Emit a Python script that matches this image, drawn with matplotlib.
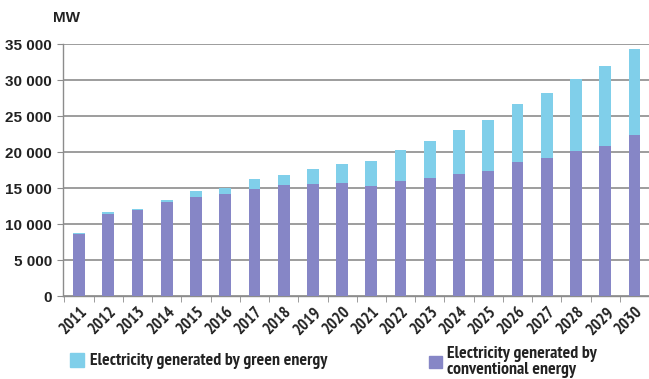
"""
Electricity generation forecast 2011-2030: conventional vs green energy (MW).
"""

import matplotlib.pyplot as plt
from matplotlib.ticker import FuncFormatter
from matplotlib.patches import Rectangle
from matplotlib import font_manager

years = [str(y) for y in range(2011, 2031)]

# totals and conventional share, MW
total_mw = [8800, 11600, 12050, 13300, 14600, 15000, 16200, 16850, 17600, 18350,
            18800, 20300, 21500, 23000, 24450, 26650, 28150, 30200, 31950, 34350]
conventional_mw = [8650, 11400, 12000, 13000, 13800, 14100, 14900, 15400, 15500, 15650,
                   15300, 16000, 16350, 16950, 17300, 18550, 19150, 20100, 20900, 22350]
green_mw = [t - c for t, c in zip(total_mw, conventional_mw)]

GREEN = "#80cfea"
CONV = "#8686c6"
GRID = "#8c8c8c"
TEXT = "#222222"

names = {f.name for f in font_manager.fontManager.ttflist}
narrow = "PT Sans Narrow" if "PT Sans Narrow" in names else "Liberation Sans"
NARROW = [narrow, "DejaVu Sans"]
plt.rcParams["font.family"] = ["Liberation Sans", "DejaVu Sans"]

fig = plt.figure(figsize=(6.49, 3.79), dpi=100)
ax = fig.add_axes([63 / 649, 1 - 296 / 379, (649 - 63) / 649, (296 - 44) / 379])

x = range(len(years))
ax.bar(x, conventional_mw, width=0.4, color=CONV, zorder=3)
ax.bar(x, green_mw, width=0.4, bottom=conventional_mw, color=GREEN, zorder=3)

ax.set_xlim(-0.55, 19.4)
ax.set_ylim(0, 35000)
ax.set_yticks(range(0, 35001, 5000))
ax.yaxis.set_major_formatter(FuncFormatter(lambda v, p: f"{int(v):,}".replace(",", " ")))
ax.yaxis.grid(True, color=GRID, linewidth=1.2, zorder=0)

for side in ("top", "right"):
    ax.spines[side].set_visible(False)
for side in ("left", "bottom"):
    ax.spines[side].set_color(GRID)
    ax.spines[side].set_linewidth(1.0)

ax.tick_params(axis="y", length=4, color=GRID, labelsize=11, pad=4, labelcolor=TEXT)
for lbl in ax.get_yticklabels():
    lbl.set_fontweight("bold")

# category labels centred on bars, tick marks between categories
ax.set_xticks(list(x))
ax.set_xticklabels(years, rotation=45, ha="right", rotation_mode="anchor",
                   fontsize=12, fontweight="bold", family=NARROW, color=TEXT)
ax.tick_params(axis="x", length=0, pad=6)
ax.set_xticks([i + 0.5 for i in range(-1, len(years))], minor=True)
ax.tick_params(axis="x", which="minor", length=4, color=GRID)

fig.text(53 / 649, 1 - 18 / 379, "MW", fontsize=11, fontweight="bold",
         color=TEXT, va="center", ha="left")

# legend drawn by hand
fig.patches.append(Rectangle((70 / 649, 1 - 367 / 379), 14 / 649, 14 / 379,
                             transform=fig.transFigure, color=GREEN))
fig.text(90 / 649, 1 - 361 / 379, "Electricity generated by green energy",
         fontsize=12.8, fontweight="bold", family=NARROW, color=TEXT,
         va="center", ha="left")
fig.patches.append(Rectangle((429 / 649, 1 - 368 / 379), 13 / 649, 12 / 379,
                             transform=fig.transFigure, color=CONV))
fig.text(447 / 649, 1 - 362 / 379, "Electricity generated by\nconventional energy",
         fontsize=12.8, fontweight="bold", family=NARROW, color=TEXT,
         va="center", ha="left", linespacing=1.05)

fig.savefig("out.png", dpi=100)
